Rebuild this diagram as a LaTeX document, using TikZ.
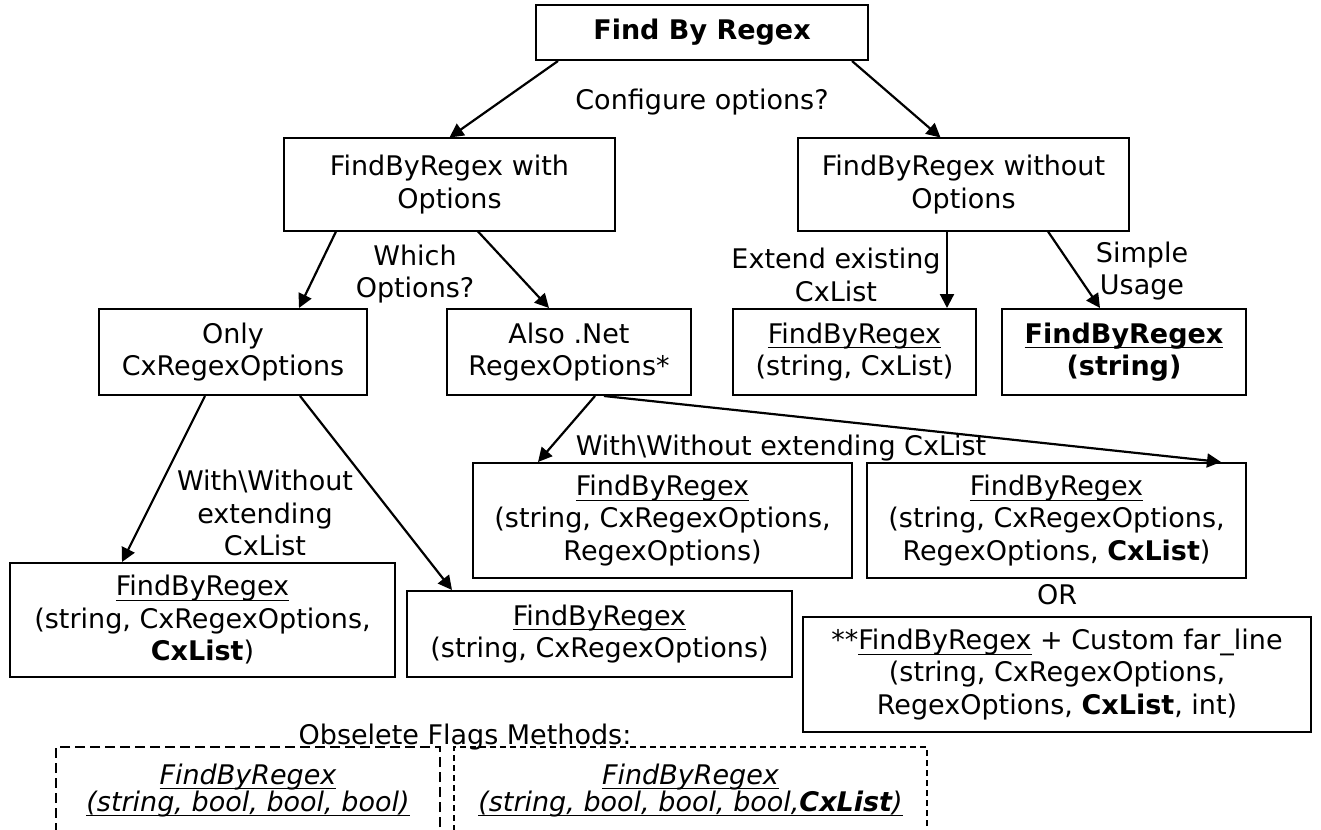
\documentclass[tikz,border=0pt]{standalone}
\usepackage{fontspec}
\setmainfont{DejaVu Sans}
\usetikzlibrary{arrows.meta}

\newcommand{\fxul}[1]{\underline{\raisebox{0pt}[\height][3pt]{#1}}}

\tikzset{every picture/.style={line width=2pt}}
\tikzset{
  box/.style={draw, align=center, inner sep=0pt},
  oldbox/.style={box, font=\fontsize{27}{27}\selectfont},
  lbl/.style={align=center, inner sep=0pt},
  link/.style={-{Triangle[length=14pt,width=14pt]}, line width=2.2pt},
}

\begin{document}
\begin{tikzpicture}[x=1pt,y=-1pt,font=\fontsize{27}{32.5}\selectfont]
  \clip (0,0) rectangle (1321,829);
  \fill[white] (0,0) rectangle (1321,829);

  \node[box,minimum width=332pt,minimum height=55pt] (top) at (702,32.5) {\textbf{Find By Regex}};
  \node[box,minimum width=331pt,minimum height=92pt] (with) at (449.5,184.5) {FindByRegex with\\Options};
  \node[box,minimum width=331pt,minimum height=92pt] (without) at (963.5,184.5) {FindByRegex without\\Options};

  \node[box,minimum width=268pt,minimum height=86pt] (only) at (233,352) {Only\\CxRegexOptions};
  \node[box,minimum width=244pt,minimum height=86pt] (alsonet) at (569,352) {Also .Net\\RegexOptions*};
  \node[box,minimum width=243pt,minimum height=86pt] (extcx) at (854.5,352) {\fxul{FindByRegex}\\(string, CxList)};
  \node[box,minimum width=244pt,minimum height=86pt] (simple) at (1124,352) {\textbf{\fxul{FindByRegex}}\\\textbf{(string)}};

  \node[box,minimum width=379pt,minimum height=115pt] (rxa) at (662.5,520.5) {\fxul{FindByRegex}\\(string, CxRegexOptions,\\RegexOptions)};
  \node[box,minimum width=379pt,minimum height=115pt] (rxb) at (1056.5,520.5) {\fxul{FindByRegex}\\(string, CxRegexOptions,\\RegexOptions, \textbf{CxList})};
  \node[box,minimum width=385pt,minimum height=114pt] (cxl) at (202.5,620) {\fxul{FindByRegex}\\(string, CxRegexOptions,\\\textbf{CxList})};
  \node[box,minimum width=385pt,minimum height=86pt] (cxo) at (599.5,634) {\fxul{FindByRegex}\\(string, CxRegexOptions)};
  \node[box,minimum width=508pt,minimum height=115pt] (farline) at (1057,674.5) {**\fxul{FindByRegex} + Custom far\_line\\(string, CxRegexOptions,\\RegexOptions, \textbf{CxList}, int)};

  \node[oldbox,dash pattern=on 10pt off 5pt,minimum width=384pt,minimum height=86pt] (oldflags) at (248,790)
    {\textit{\fxul{FindByRegex}}\\\textit{\fxul{(string, bool, bool, bool)}}};
  \node[oldbox,dash pattern=on 6pt off 4pt,minimum width=473pt,minimum height=86pt] (oldcx) at (690.5,790)
    {\textit{\fxul{FindByRegex}}\\\fxul{\textit{(string, bool, bool, bool,\textbf{CxList})}}};

  \node[lbl] (qconf) at (702,102) {Configure options?};
  \node[lbl] (qwhich) at (415,274) {Which\\Options?};
  \node[lbl] (qext) at (836,275) {Extend existing\\CxList};
  \node[lbl] (qsimple) at (1142,271) {Simple\\Usage};
  \node[lbl] (qnet) at (781,448) {With\textbackslash Without extending CxList};
  \node[lbl] (qonly) at (265,513) {With\textbackslash Without\\extending\\CxList};
  \node[lbl] (qor) at (1057,595) {OR};
  \node[lbl] (qold) at (465,737) {Obselete Flags Methods:};

  \draw[link] ([xshift=-144pt]top.south) -- (with.north);
  \draw[link] ([xshift=150pt]top.south) -- ([xshift=-23pt]without.north);
  \draw[link] ([xshift=-113.5pt]with.south) -- ([xshift=66pt]only.north);
  \draw[link] ([xshift=28.5pt]with.south) -- ([xshift=-20pt]alsonet.north);
  \draw[link] ([xshift=-16.5pt]without.south) -- ([xshift=92.5pt]extcx.north);
  \draw[link] ([xshift=84.5pt]without.south) -- ([xshift=-24pt]simple.north);
  \draw[link] ([xshift=26pt]alsonet.south) -- ([xshift=-124.5pt]rxa.north);
  \draw[link] ([xshift=35pt]alsonet.south) -- ([xshift=164.5pt]rxb.north);
  \draw[link] ([xshift=-28pt]only.south) -- ([xshift=-80.5pt]cxl.north);
  \draw[link] ([xshift=67pt]only.south) -- ([xshift=-147.5pt]cxo.north);
\end{tikzpicture}
\end{document}
